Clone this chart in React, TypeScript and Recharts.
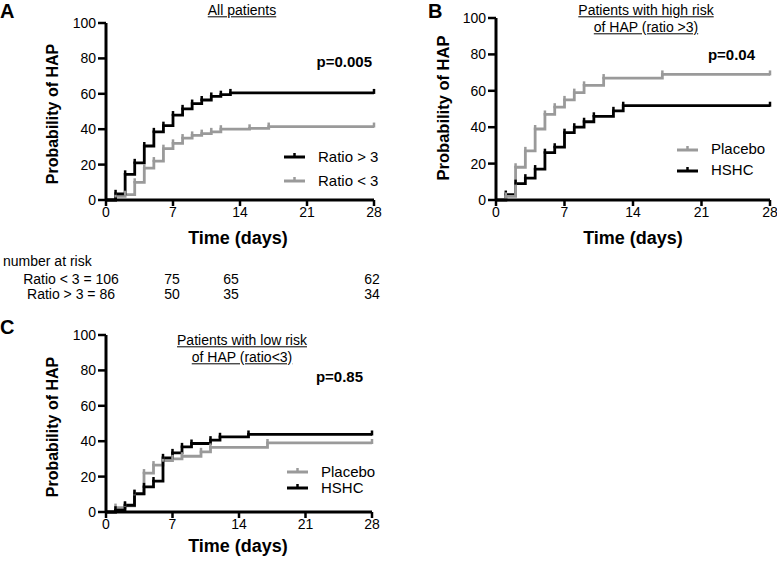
import React from 'react';
import { LineChart, Line, XAxis, YAxis, Legend } from 'recharts';

// Panel A: all patients
const A_DAYS_HI = [0, 1, 2, 3, 4, 5, 6, 7, 8, 9, 10, 11, 12, 13, 28];
const A_HI = [0, 3.5, 14.5, 21, 30.5, 38.5, 42, 48, 51.5, 54.5, 56.5, 58.5, 59.5, 60.5, 60.5];
const A_DAYS_LO = [0, 1, 2, 3, 4, 5, 6, 7, 8, 9, 10, 11, 12, 15, 17, 28];
const A_LO = [0, 2, 3, 10, 18, 22, 29, 32, 35, 36.5, 37.5, 38.5, 40, 40.5, 41.5, 41.5];

// Panel B: high risk
const B_DAYS_PL = [0, 1, 2, 3, 4, 5, 6, 7, 8, 9, 11, 17, 28];
const B_PL = [0, 2, 18, 27, 39, 47, 51, 55, 59, 63, 67, 69, 69];
const B_DAYS_HS = [0, 1, 2, 3, 4, 5, 6, 7, 8, 9, 10, 12, 13, 28];
const B_HS = [0, 3, 9, 12, 17, 26, 29, 37, 40, 43, 46, 49, 51.8, 51.8];

// Panel C: low risk
const C_DAYS_PL = [0, 1, 2, 3, 4, 5, 6, 7, 8, 10, 11, 17, 28];
const C_PL = [0, 2.5, 3.5, 10, 22, 26.5, 29, 30, 31.5, 34, 36.5, 39, 39];
const C_DAYS_HS = [0, 1, 2, 3, 4, 5, 6, 7, 8, 9, 11, 12, 15, 28];
const C_HS = [0, 1, 3.8, 10.4, 14.2, 17.5, 30.6, 33.4, 36.8, 38.7, 40.6, 42.5, 43.8, 43.8];

const X_TICKS = [0, 7, 14, 21, 28];
const Y_TICKS = [0, 20, 40, 60, 80, 100];

const RISK_LABELS = ['Ratio < 3 = 106', 'Ratio > 3 = 86'];
const RISK_LO = ['75', '65', '62'];
const RISK_HI = ['50', '35', '34'];

const BLACK = '#000000';
const GRAY = '#9a9a9a';
const FONT = '"Liberation Sans", Arial, Helvetica, sans-serif';

const toPts = (days: number[], vals: number[]) => days.map((t, i) => ({ t, v: vals[i] }));

type Series = { name: string; color: string; days: number[]; vals: number[] };

function censorDot(color: string) {
  return (props: any) => {
    const { cx, cy, index } = props;
    if (index === 0 || cx == null) return <g key={`n${index}`} />;
    return <line key={`c${index}`} x1={cx} x2={cx} y1={cy - 4} y2={cy + 1} stroke={color} strokeWidth={2.5} />;
  };
}

function LegendBox({ items, gap, size }: { items: Series[]; gap: number; size: number }) {
  return (
    <div style={{ fontFamily: FONT, fontSize: size }}>
      {items.map((s) => (
        <div key={s.name} style={{ display: 'flex', alignItems: 'center', height: gap, lineHeight: 1 }}>
          <svg width={32} height={12} style={{ marginRight: 2 }}>
            <line x1={0} x2={21} y1={7} y2={7} stroke={s.color} strokeWidth={3} />
            <line x1={10.5} x2={10.5} y1={3} y2={7} stroke={s.color} strokeWidth={2.5} />
          </svg>
          <span>{s.name}</span>
        </div>
      ))}
    </div>
  );
}

function Panel({
  x0, y0, pw, ph, series, legend, legendPos, legendGap, tickSize,
}: {
  x0: number; y0: number; pw: number; ph: number; series: Series[]; legend: Series[];
  legendPos: { left: number; top: number }; legendGap: number; tickSize: number;
}) {
  // margins: left 30 + y axis 40, right 20; top 10, bottom 20 + x axis 30
  const W = pw + 90;
  const H = ph + 60;
  return (
    <div style={{ position: 'absolute', left: x0 - 70, top: y0 - 10 }}>
      <LineChart width={W} height={H} margin={{ top: 10, left: 30, right: 20, bottom: 20 }}>
        <XAxis
          type="number"
          dataKey="t"
          domain={[0, 28]}
          ticks={X_TICKS}
          height={30}
          tickSize={6}
          tickMargin={1}
          axisLine={{ stroke: BLACK, strokeWidth: 3 }}
          tickLine={{ stroke: BLACK, strokeWidth: 2.5 }}
          tick={{ fill: BLACK, fontSize: tickSize, fontFamily: FONT }}
        />
        <YAxis
          type="number"
          domain={[0, 100]}
          ticks={Y_TICKS}
          width={40}
          tickSize={8}
          tickMargin={2}
          axisLine={{ stroke: BLACK, strokeWidth: 3 }}
          tickLine={{ stroke: BLACK, strokeWidth: 2.5 }}
          tick={{ fill: BLACK, fontSize: tickSize, fontFamily: FONT }}
        />
        {series.map((s) => (
          <Line
            key={s.name}
            name={s.name}
            data={toPts(s.days, s.vals)}
            dataKey="v"
            type="stepAfter"
            stroke={s.color}
            strokeWidth={2.8}
            dot={censorDot(s.color)}
            activeDot={false}
            isAnimationActive={false}
          />
        ))}
        <Legend
          layout="horizontal"
          verticalAlign="middle"
          align="center"
          content={() => <LegendBox items={legend} gap={legendGap} size={15} />}
          wrapperStyle={{ position: 'absolute', left: legendPos.left - (x0 - 70), top: legendPos.top - (y0 - 10), width: 120 }}
        />
      </LineChart>
    </div>
  );
}

function T({ x, y, children, size = 14, bold = false, anchor = 'middle', underline = false, rotate = false }: any) {
  const tx = anchor === 'middle' ? '-50%' : anchor === 'end' ? '-100%' : '0';
  return (
    <div
      style={{
        position: 'absolute',
        left: x,
        top: y,
        transform: `translate(${tx}, -50%)${rotate ? ' rotate(-90deg)' : ''}`,
        transformOrigin: rotate ? 'center' : undefined,
        fontSize: size,
        fontWeight: bold ? 'bold' : 'normal',
        fontFamily: FONT,
        lineHeight: 1.1,
        whiteSpace: 'nowrap',
        textDecoration: underline ? 'underline' : 'none',
        color: BLACK,
      }}
    >
      {children}
    </div>
  );
}

export default function App() {
  const aHi: Series = { name: 'Ratio > 3', color: BLACK, days: A_DAYS_HI, vals: A_HI };
  const aLo: Series = { name: 'Ratio < 3', color: GRAY, days: A_DAYS_LO, vals: A_LO };
  const bPl: Series = { name: 'Placebo', color: GRAY, days: B_DAYS_PL, vals: B_PL };
  const bHs: Series = { name: 'HSHC', color: BLACK, days: B_DAYS_HS, vals: B_HS };
  const cPl: Series = { name: 'Placebo', color: GRAY, days: C_DAYS_PL, vals: C_PL };
  const cHs: Series = { name: 'HSHC', color: BLACK, days: C_DAYS_HS, vals: C_HS };

  return (
    <div style={{ position: 'absolute', left: 0, top: 0, width: 777, height: 561, background: '#fff', overflow: 'hidden' }}>
      {/* Panel A */}
      <Panel x0={106} y0={23} pw={268} ph={177} series={[aLo, aHi]} legend={[aHi, aLo]}
        legendPos={{ left: 284, top: 144 }} legendGap={24} tickSize={14} />
      <T x={0} y={11} size={20} bold anchor="start">A</T>
      <T x={242} y={11} size={14} underline>All patients</T>
      <T x={372} y={62} size={15} bold anchor="end">p=0.005</T>
      <T x={53} y={114} size={16} bold rotate>Probability of HAP</T>
      <T x={238} y={239} size={18} bold>Time (days)</T>

      {/* number at risk */}
      <T x={3} y={262} size={14} anchor="start">number at risk</T>
      {RISK_LABELS.map((l, i) => (
        <T key={l} x={71} y={280 + i * 14.5} size={14}>{l}</T>
      ))}
      {[RISK_LO, RISK_HI].map((row, r) =>
        row.map((n, i) => (
          <T key={`${r}-${i}`} x={[172, 231, 372][i]} y={280 + r * 14.5} size={14}>{n}</T>
        ))
      )}

      {/* Panel B */}
      <Panel x0={496} y0={18} pw={274} ph={182} series={[bHs, bPl]} legend={[bPl, bHs]}
        legendPos={{ left: 677, top: 138 }} legendGap={21} tickSize={14} />
      <T x={428} y={11} size={20} bold anchor="start">B</T>
      <T x={646} y={11} size={14} underline>Patients with high risk</T>
      <T x={646} y={28} size={14} underline>of HAP (ratio &gt;3)</T>
      <T x={755} y={55} size={15} bold anchor="end">p=0.04</T>
      <T x={443} y={108} size={16.5} bold rotate>Probability of HAP</T>
      <T x={633} y={239} size={18} bold>Time (days)</T>

      {/* Panel C */}
      <Panel x0={106} y0={335} pw={266} ph={177} series={[cPl, cHs]} legend={[cPl, cHs]}
        legendPos={{ left: 287, top: 463 }} legendGap={16} tickSize={14} />
      <T x={0} y={327} size={20} bold anchor="start">C</T>
      <T x={242} y={341} size={14} underline>Patients with low risk</T>
      <T x={242} y={358} size={14} underline>of HAP (ratio&lt;3)</T>
      <T x={363} y={377} size={15} bold anchor="end">p=0.85</T>
      <T x={53} y={427} size={16} bold rotate>Probability of HAP</T>
      <T x={238} y={547} size={18} bold>Time (days)</T>
    </div>
  );
}
